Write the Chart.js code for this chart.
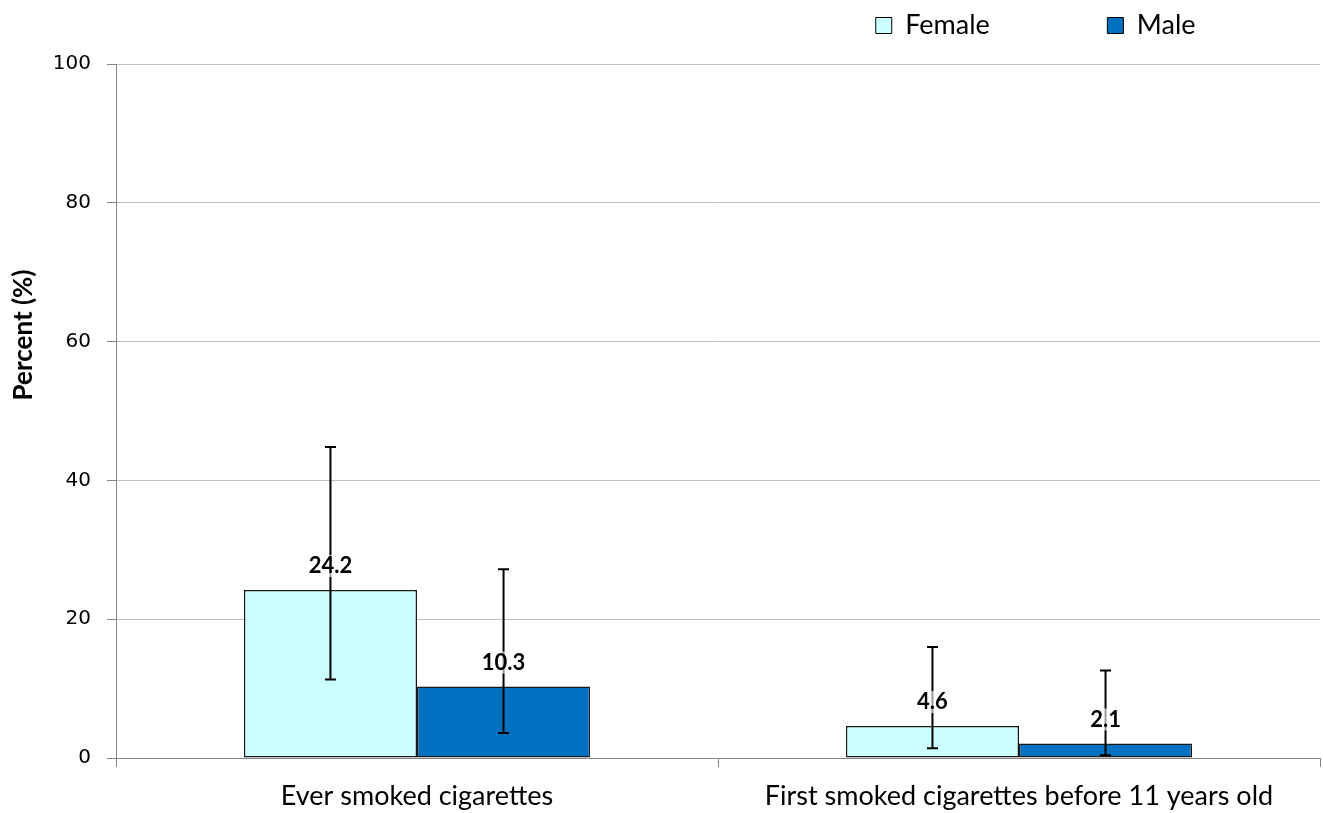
<!DOCTYPE html>
<html>
<head>
<meta charset="utf-8">
<script src="https://cdn.jsdelivr.net/npm/chart.js@4.4.1/dist/chart.umd.min.js"></script>
<style>
  html, body { margin: 0; padding: 0; background: #fff; }
  #wrap { width: 1323px; height: 813px; }
</style>
</head>
<body>
<div id="wrap"><canvas id="chart"></canvas></div>
<script>
// data
const categories = ['Ever smoked cigarettes', 'First smoked cigarettes before 11 years old'];
const seriesNames = ['Female', 'Male'];
const femaleValues = [24.2, 4.6];
const maleValues = [10.3, 2.1];
const femaleLow = [11.3, 1.4];
const femaleHigh = [44.8, 16.0];
const maleLow = [3.6, 0.4];
const maleHigh = [27.2, 12.6];
const yTicks = [0, 20, 40, 60, 80, 100];
const yTitle = 'Percent (%)';

const FEMALE_COLOR = '#CCFFFF';
const MALE_COLOR = '#0070C0';
const GRID_COLOR = '#BFBFBF';
const AXIS_COLOR = '#868686';

// error bars + value labels, drawn from the scales
const errorBarPlugin = {
    id: 'errorBars',
    afterDatasetsDraw(chart) {
        const ctx = chart.ctx;
        const yScale = chart.scales.y;
        chart.data.datasets.forEach((ds, i) => {
            const meta = chart.getDatasetMeta(i);
            meta.data.forEach((bar, j) => {
                const top = yScale.getPixelForValue(ds.errHigh[j]);
                const bottom = yScale.getPixelForValue(ds.errLow[j]);
                ctx.save();
                ctx.strokeStyle = '#000';
                ctx.lineWidth = 2;
                ctx.beginPath();
                ctx.moveTo(bar.x, top); ctx.lineTo(bar.x, bottom);
                ctx.moveTo(bar.x - 5.5, top); ctx.lineTo(bar.x + 5.5, top);
                ctx.moveTo(bar.x - 5.5, bottom); ctx.lineTo(bar.x + 5.5, bottom);
                ctx.stroke();
                ctx.restore();
            });
        });
        // labels on top, with a faint white box behind them
        chart.data.datasets.forEach((ds, i) => {
            const meta = chart.getDatasetMeta(i);
            meta.data.forEach((bar, j) => {
                const txt = ds.data[j].toFixed(1);
                ctx.save();
                ctx.font = 'bold 22px Lato';
                const w = ctx.measureText(txt).width;
                const cy = bar.y - 24;
                ctx.fillStyle = 'rgba(255,255,255,0.6)';
                ctx.fillRect(bar.x - w / 2 - 1, cy - 11, w + 2, 22);
                ctx.fillStyle = '#000';
                ctx.textAlign = 'center';
                ctx.textBaseline = 'middle';
                ctx.fillText(txt, bar.x, cy);
                ctx.restore();
            });
        });
    }
};

// y axis title sits above the middle of the axis in the original
const yTitlePlugin = {
    id: 'yTitle',
    afterDraw(chart) {
        const ctx = chart.ctx;
        ctx.save();
        ctx.translate(24, 335);
        ctx.rotate(-Math.PI / 2);
        ctx.font = 'bold 26px Lato';
        ctx.fillStyle = '#000';
        ctx.textAlign = 'center';
        ctx.textBaseline = 'middle';
        ctx.fillText(yTitle, 0, 0);
        ctx.restore();
    }
};

// legend sits higher above the plot than chart.js places it
const legendShiftPlugin = {
    id: 'legendShift',
    afterLayout(chart) {
        if (!chart.legend) return;
        chart.legend.top -= 15;
        chart.legend.bottom -= 15;
    }
};

new Chart(document.getElementById('chart'), {
    type: 'bar',
    data: {
        labels: categories,
        datasets: [
            { label: seriesNames[0], data: femaleValues, errLow: femaleLow, errHigh: femaleHigh,
              backgroundColor: FEMALE_COLOR, borderColor: '#1a1a1a', borderWidth: 1.5, borderSkipped: false },
            { label: seriesNames[1], data: maleValues, errLow: maleLow, errHigh: maleHigh,
              backgroundColor: MALE_COLOR, borderColor: '#1a1a1a', borderWidth: 1.5, borderSkipped: false }
        ]
    },
    options: {
        responsive: true, maintainAspectRatio: false, animation: false,
        layout: { padding: { top: 0, right: 3, left: 0, bottom: 0 } },
        datasets: { bar: { categoryPercentage: 0.575, barPercentage: 1.0 } },
        plugins: {
            tooltip: { enabled: false },
            legend: {
                position: 'top', align: 'end',
                labels: {
                    boxWidth: 16, boxHeight: 16, padding: 0, color: '#000',
                    font: { family: 'Lato', size: 27, lineHeight: 1.0 },
                    generateLabels(chart) {
                        // trailing spaces give the wide gap between the two entries
                        return chart.data.datasets.map((ds, i) => ({
                            text: ds.label + ' '.repeat(i === 0 ? 17 : 18),
                            fillStyle: ds.backgroundColor, strokeStyle: '#000', lineWidth: 1,
                            datasetIndex: i
                        }));
                    }
                }
            }
        },
        scales: {
            x: {
                grid: { display: true, offset: true, drawOnChartArea: false, drawTicks: true, tickLength: 9, color: AXIS_COLOR },
                border: { color: AXIS_COLOR, width: 1 },
                ticks: { color: '#000', padding: 13, font: { family: 'Lato', size: 27 }, maxRotation: 0 },
                afterFit(scale) { scale.height = 55; }
            },
            y: {
                min: 0, max: 100,
                afterBuildTicks(scale) { scale.ticks = yTicks.map(v => ({ value: v })); },
                grid: { color: GRID_COLOR, tickLength: 9, tickColor: AXIS_COLOR },
                border: { color: AXIS_COLOR, width: 1 },
                ticks: { color: '#000', padding: 16, font: { family: 'DejaVu Sans', size: 20 } },
                afterFit(scale) { scale.width = 116; scale.paddingTop = 64; }
            }
        }
    },
    plugins: [errorBarPlugin, yTitlePlugin, legendShiftPlugin]
});
</script>
</body>
</html>
